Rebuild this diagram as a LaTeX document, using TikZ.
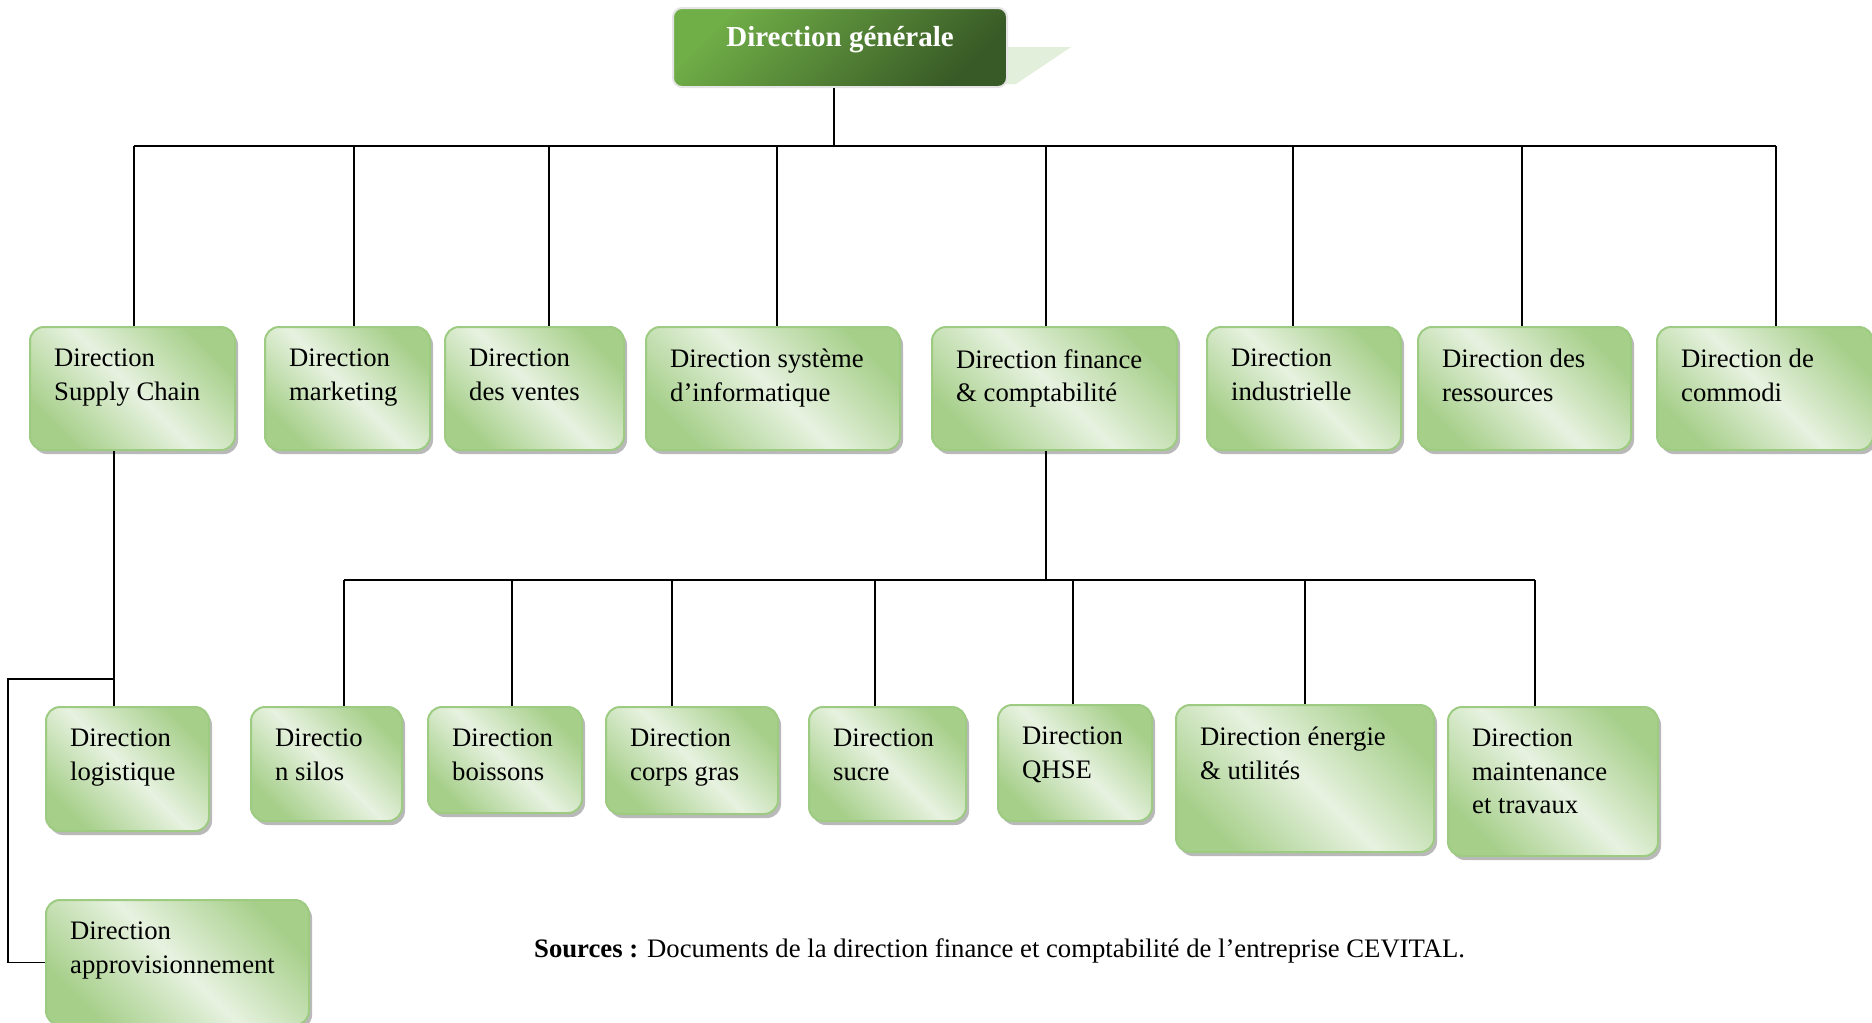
\documentclass[tikz,border=0pt]{standalone}
\usepackage{fontspec}
\setmainfont{Liberation Serif}
\usepackage{tikz}
\usetikzlibrary{positioning,calc,shadows}
\definecolor{boxdark}{HTML}{A6CF8A}
\definecolor{boxlight}{HTML}{E7F2E0}
\definecolor{boxline}{HTML}{9ECB82}
\definecolor{dgtop}{HTML}{70AE47}
\definecolor{dgbot}{HTML}{385A26}
\definecolor{tailgreen}{HTML}{E2EFDA}

\begin{document}
\begin{tikzpicture}[
    x=1pt, y=-1pt,
    link/.style={draw=black, line width=1.8pt},
    dirbox/.style 2 args={
        draw=boxline,
        line width=2pt,
        rounded corners=14pt,
        top color=boxdark, bottom color=boxdark, middle color=boxlight,
        shading angle=-45,
        minimum width=#1,
        minimum height=#2,
        anchor=north west,
        inner sep=0pt,
        drop shadow={shadow xshift=3pt, shadow yshift=-4pt,
                     fill=black!55, opacity=.5}
    },
    boxtext/.style={anchor=north west, xshift=25pt, yshift=-23pt,
                    align=left, inner sep=0pt,
                    font=\fontsize{26.7}{33.4}\selectfont},
    txt/.style={label={[boxtext]north west:{#1}}},
    dgtext/.style={anchor=center, yshift=-33pt, inner sep=0pt, text=white,
                   font=\fontsize{29}{34}\selectfont\bfseries}
]
\useasboundingbox (0,0) rectangle (1872,1023);

% tail behind the top box
\fill[tailgreen] (990,47) -- (1071,47) -- (1016,84) -- (990,84) -- cycle;
\node[draw=black!10, line width=2pt, rounded corners=9pt,
      top color=dgtop, bottom color=dgbot, shading angle=45,
      minimum width=334, minimum height=79, anchor=north west,
      label={[dgtext]90:Direction générale}] (dg) at (672,7) {};

\node[dirbox={205}{123}, txt={Direction\\Supply Chain}] (sc) at (29,326) {};
\node[dirbox={165}{123}, txt={Direction\\marketing}] (mkt) at (264,326) {};
\node[dirbox={179}{123}, txt={Direction\\des ventes}] (ven) at (444,326) {};
\node[dirbox={254}{123}, txt={Direction système\\d’informatique}] (sys) at (645,326) {};
\node[dirbox={245}{123}, txt={Direction finance\\\& comptabilité}] (fin) at (931,326) {};
\node[dirbox={194}{123}, txt={Direction\\industrielle}] (ind) at (1206,326) {};
\node[dirbox={213}{123}, txt={Direction des\\ressources}] (res) at (1417,326) {};
\node[dirbox={216}{123}, txt={Direction de\\commodi}] (com) at (1656,326) {};

\node[dirbox={163}{124}, txt={Direction\\logistique}] (log) at (45,706) {};
\node[dirbox={263}{125}, txt={Direction\\approvisionnement}] (app) at (45,899) {};

\node[dirbox={151}{114}, txt={Directio\\n silos}] (sil) at (250,706) {};
\node[dirbox={154}{106}, txt={Direction\\boissons}] (boi) at (427,706) {};
\node[dirbox={172}{107}, txt={Direction\\corps gras}] (cor) at (605,706) {};
\node[dirbox={157}{114}, txt={Direction\\sucre}] (suc) at (808,706) {};
\node[dirbox={154}{116}, txt={Direction\\QHSE}] (qhs) at (997,704) {};
\node[dirbox={258}{147}, txt={Direction énergie\\\& utilités}] (ene) at (1175,704) {};
\node[dirbox={210}{149}, txt={Direction\\maintenance\\et travaux}] (mai) at (1447,706) {};

\coordinate (bus1) at (0,146);
\coordinate (bus2) at (0,580);
\coordinate (lk) at (8,679);

\draw[link] ([xshift=-6]dg.south) -- ([xshift=-6]dg.south |- bus1);
\draw[link] ([xshift=1.5]sc.north |- bus1) -- ([xshift=11]com.north |- bus1);
\draw[link] ([xshift=1.5]sc.north) -- ([xshift=1.5]sc.north |- bus1);
\draw[link] ([xshift=6.5]mkt.north) -- ([xshift=6.5]mkt.north |- bus1);
\draw[link] ([xshift=14.5]ven.north) -- ([xshift=14.5]ven.north |- bus1);
\draw[link] ([xshift=4]sys.north) -- ([xshift=4]sys.north |- bus1);
\draw[link] ([xshift=-8.5]fin.north) -- ([xshift=-8.5]fin.north |- bus1);
\draw[link] ([xshift=-11]ind.north) -- ([xshift=-11]ind.north |- bus1);
\draw[link] ([xshift=-2.5]res.north) -- ([xshift=-2.5]res.north |- bus1);
\draw[link] ([xshift=11]com.north) -- ([xshift=11]com.north |- bus1);

% second level under finance
\draw[link] ([xshift=-8.5]fin.south) -- ([xshift=-8.5]fin.south |- bus2);
\draw[link] ([xshift=17.5]sil.north |- bus2) -- ([xshift=-18]mai.north |- bus2);
\draw[link] ([xshift=17.5]sil.north) -- ([xshift=17.5]sil.north |- bus2);
\draw[link] ([xshift=7]boi.north) -- ([xshift=7]boi.north |- bus2);
\draw[link] ([xshift=-20]cor.north) -- ([xshift=-20]cor.north |- bus2);
\draw[link] ([xshift=-12.5]suc.north) -- ([xshift=-12.5]suc.north |- bus2);
\draw[link] ([xshift=-2]qhs.north) -- ([xshift=-2]qhs.north |- bus2);
\draw[link] (ene.north) -- (ene.north |- bus2);
\draw[link] ([xshift=-18]mai.north) -- ([xshift=-18]mai.north |- bus2);

% supply chain branch
\draw[link] ([xshift=-18.5]sc.south) -- ([xshift=-18.5]sc.south |- log.north);
\draw[link] ([xshift=-18.5]sc.south |- lk) -- (lk) |- (app.west);

\node[anchor=base west, inner sep=0pt, font=\fontsize{26.7}{33.4}\selectfont] (src)
    at (534,957) {\textbf{Sources :} Documents de la direction finance et comptabilité de l’entreprise CEVITAL.};

\end{tikzpicture}
\end{document}
